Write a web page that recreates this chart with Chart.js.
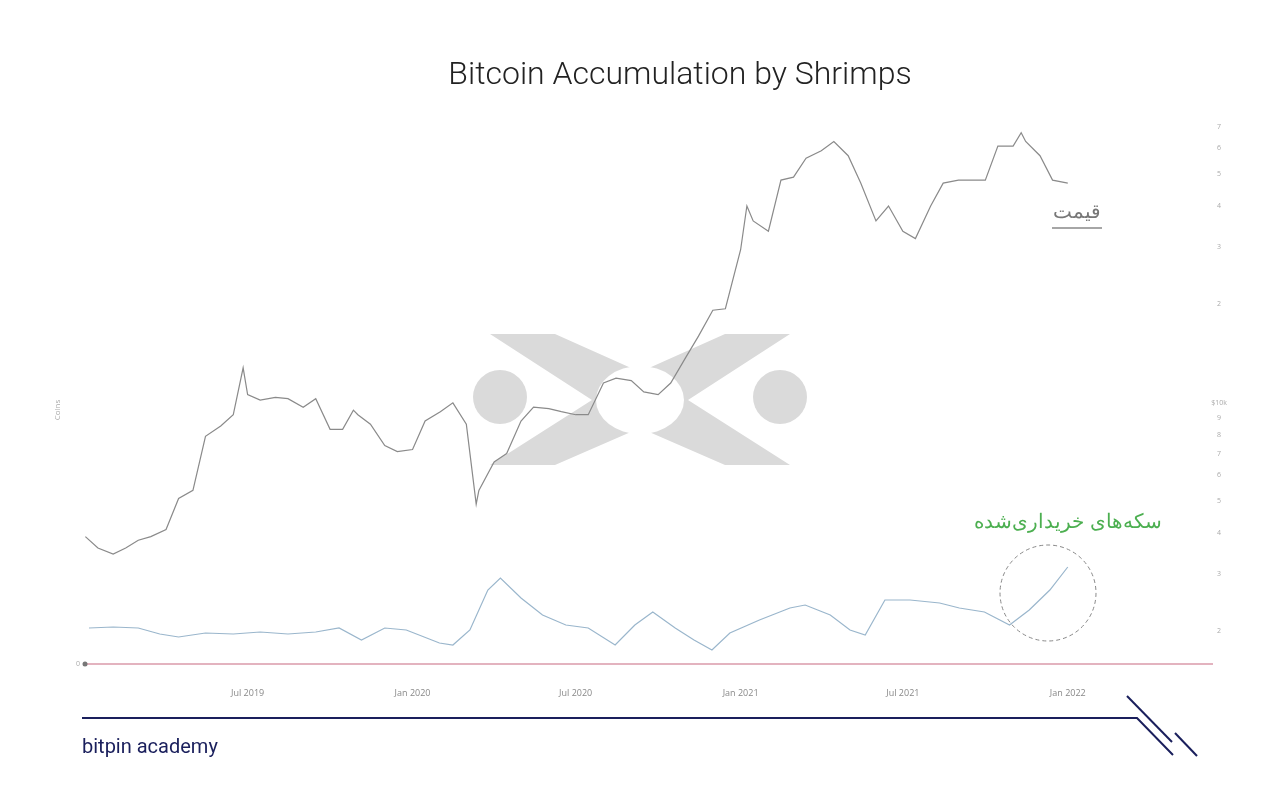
<!DOCTYPE html>
<html>
<head>
<meta charset="utf-8">
<script src="https://cdn.jsdelivr.net/npm/chart.js@4"></script>
<style>
  body { margin: 0; background: #fff; }
  canvas { display: block; }
</style>
</head>
<body>
<canvas id="c" width="1280" height="800"></canvas>
<script>
// price (USD)
const priceDates = ["2019-01-01","2019-01-15","2019-02-01","2019-02-15","2019-03-01","2019-03-15","2019-04-01","2019-04-15","2019-05-01","2019-05-15","2019-06-01","2019-06-15","2019-06-26","2019-07-01","2019-07-15","2019-08-01","2019-08-15","2019-09-01","2019-09-15","2019-10-01","2019-10-15","2019-10-27","2019-11-01","2019-11-15","2019-12-01","2019-12-15","2020-01-01","2020-01-15","2020-02-01","2020-02-15","2020-03-01","2020-03-12","2020-03-15","2020-04-01","2020-04-15","2020-05-01","2020-05-15","2020-06-01","2020-06-15","2020-07-01","2020-07-15","2020-08-01","2020-08-15","2020-09-01","2020-09-15","2020-10-01","2020-10-15","2020-11-01","2020-11-15","2020-12-01","2020-12-15","2021-01-01","2021-01-08","2021-01-15","2021-02-01","2021-02-15","2021-03-01","2021-03-15","2021-04-01","2021-04-15","2021-05-01","2021-05-15","2021-06-01","2021-06-15","2021-07-01","2021-07-15","2021-08-01","2021-08-15","2021-09-01","2021-09-15","2021-10-01","2021-10-15","2021-11-01","2021-11-10","2021-11-15","2021-12-01","2021-12-15","2022-01-01"];
const priceValues = [3900,3600,3450,3600,3800,3900,4100,5100,5400,7900,8500,9200,12800,10600,10200,10400,10300,9700,10300,8300,8300,9500,9200,8600,7400,7100,7200,8800,9400,10000,8600,4900,5400,6600,7000,8800,9700,9600,9400,9200,9200,11500,11900,11700,10800,10600,11500,13800,16000,19200,19400,29400,40000,36000,33500,48000,49000,56000,59000,63000,57000,47000,36000,40000,33500,31800,40000,47000,48000,48000,48000,61000,61000,67000,63000,57000,48000,47000];

// coins accumulated by shrimps (relative units)
const coinDates = ["2019-01-05","2019-02-01","2019-03-01","2019-03-25","2019-04-15","2019-05-15","2019-06-15","2019-07-15","2019-08-15","2019-09-15","2019-10-11","2019-11-05","2019-12-01","2019-12-25","2020-01-31","2020-02-15","2020-03-05","2020-03-25","2020-04-08","2020-05-01","2020-05-25","2020-06-20","2020-07-15","2020-08-14","2020-09-05","2020-09-25","2020-10-20","2020-11-10","2020-11-30","2020-12-20","2021-01-22","2021-02-25","2021-03-14","2021-04-11","2021-05-03","2021-05-20","2021-06-11","2021-07-09","2021-08-11","2021-09-02","2021-09-30","2021-10-28","2021-11-19","2021-12-12","2022-01-01"];
const coinValues = [36,37,36,30,27,31,30,32,30,32,36,24,36,34,21,19,34,74,86,66,49,39,36,19,39,52,36,24,14,31,44,56,59,49,34,29,64,64,61,56,52,39,54,74,97];

const xTickDates = ["2019-07-01","2020-01-01","2020-07-01","2021-01-01","2021-07-01","2022-01-01"];
const xTickLabels = ["Jul 2019","Jan 2020","Jul 2020","Jan 2021","Jul 2021","Jan 2022"];
const priceTicks = [2000,3000,4000,5000,6000,7000,8000,9000,10000,20000,30000,40000,50000,60000,70000];
const priceTickLabels = ["2","3","4","5","6","7","8","9","$10k","2","3","4","5","6","7"];

const T0 = Date.UTC(2019, 0, 1);
const day = s => (Date.parse(s + "T00:00:00Z") - T0) / 86400000;

const extras = {
  id: "extras",
  beforeDraw(chart) {
    const c = chart.ctx;
    c.save();
    // watermark: X with a lens-shaped hole, two dots
    c.fillStyle = "#dadada";
    c.beginPath(); c.arc(500, 397, 27, 0, Math.PI * 2); c.fill();
    c.beginPath(); c.arc(780, 397, 27, 0, Math.PI * 2); c.fill();
    c.beginPath();
    c.moveTo(490, 334); c.lineTo(555, 334); c.lineTo(640, 372); c.lineTo(725, 334); c.lineTo(790, 334);
    c.lineTo(688, 400); c.lineTo(790, 465); c.lineTo(725, 465); c.lineTo(640, 428);
    c.lineTo(555, 465); c.lineTo(490, 465); c.lineTo(592, 400); c.closePath();
    c.fill();
    c.globalCompositeOperation = "destination-out";
    c.beginPath(); c.ellipse(640, 400, 44, 34, 0, 0, Math.PI * 2); c.fill();
    c.restore();
  },
  beforeDatasetsDraw(chart) {
    const c = chart.ctx, a = chart.chartArea;
    const x = chart.scales.x, yp = chart.scales.yp, yc = chart.scales.yc;
    c.save();
    // baseline
    c.strokeStyle = "#e3b3bf"; c.lineWidth = 2;
    const y0 = yc.getPixelForValue(0);
    c.beginPath(); c.moveTo(a.left + 4, y0); c.lineTo(a.right, y0); c.stroke();
    c.fillStyle = "#777";
    c.beginPath(); c.arc(a.left + 5, y0, 2.5, 0, Math.PI * 2); c.fill();
    // tick labels
    c.font = "9px 'Open Sans'"; c.fillStyle = "#888";
    c.textAlign = "center"; c.textBaseline = "middle";
    xTickDates.forEach((d, i) => c.fillText(xTickLabels[i], x.getPixelForValue(day(d)), 693));
    c.fillStyle = "#aaa"; c.font = "7px 'Open Sans'";
    priceTicks.forEach((v, i) => c.fillText(priceTickLabels[i], 1219, yp.getPixelForValue(v)));
    c.fillText("0", 78, y0);
    c.save(); c.translate(58, 410); c.rotate(-Math.PI / 2);
    c.font = "8px 'Open Sans'"; c.fillText("Coins", 0, 0); c.restore();
    c.restore();
  },
  afterDatasetsDraw(chart) {
    const c = chart.ctx;
    c.save();
    // title
    c.fillStyle = "#222"; c.textAlign = "center"; c.textBaseline = "middle";
    c.font = "300 32px Roboto";
    c.fillText("Bitcoin Accumulation by Shrimps", 680, 76);
    // annotations
    c.direction = "rtl";
    c.font = "20px 'Noto Sans'"; c.fillStyle = "#777"; c.textAlign = "center";
    c.fillText("قیمت", 1077, 212);
    c.strokeStyle = "#888"; c.lineWidth = 1.5;
    c.beginPath(); c.moveTo(1052, 228); c.lineTo(1102, 228); c.stroke();
    c.fillStyle = "#4caf50"; c.font = "20px 'Noto Sans'";
    c.fillText("سکه‌های خریداری‌شده", 1068, 522);
    c.direction = "ltr";
    c.setLineDash([4, 3]); c.strokeStyle = "#888"; c.lineWidth = 1;
    c.beginPath(); c.arc(1048, 593, 48, 0, Math.PI * 2); c.stroke();
    c.setLineDash([]);
    // footer
    c.strokeStyle = "#1a1f5c"; c.lineWidth = 2;
    c.beginPath(); c.moveTo(82, 718); c.lineTo(1137, 718); c.lineTo(1173, 755); c.stroke();
    c.beginPath(); c.moveTo(1127, 696); c.lineTo(1172, 742); c.stroke();
    c.beginPath(); c.moveTo(1175, 733); c.lineTo(1197, 756); c.stroke();
    c.fillStyle = "#1a1f5c"; c.textAlign = "left";
    c.font = "20px Roboto";
    c.fillText("bitpin academy", 82, 748);
    c.restore();
  }
};

new Chart(document.getElementById("c"), {
  type: "line",
  data: {
    datasets: [
      {
        label: "Price",
        data: priceDates.map((d, i) => ({ x: day(d), y: priceValues[i] })),
        yAxisID: "yp",
        borderColor: "#8a8a8a",
        borderWidth: 1.2,
        pointRadius: 0,
        tension: 0
      },
      {
        label: "Coins",
        data: coinDates.map((d, i) => ({ x: day(d), y: coinValues[i] })),
        yAxisID: "yc",
        borderColor: "#9ab6cc",
        borderWidth: 1.2,
        pointRadius: 0,
        tension: 0
      }
    ]
  },
  options: {
    responsive: false,
    animation: false,
    layout: { padding: { left: 80, right: 67, top: 120, bottom: 136 } },
    plugins: { legend: { display: false }, tooltip: { enabled: false } },
    scales: {
      x: { type: "linear", display: false, min: -6, max: 1258 },
      yp: { type: "logarithmic", display: false, min: 1590, max: 73300 },
      yc: { type: "linear", display: false, min: 0, max: 544 }
    }
  },
  plugins: [extras]
});
</script>
</body>
</html>
